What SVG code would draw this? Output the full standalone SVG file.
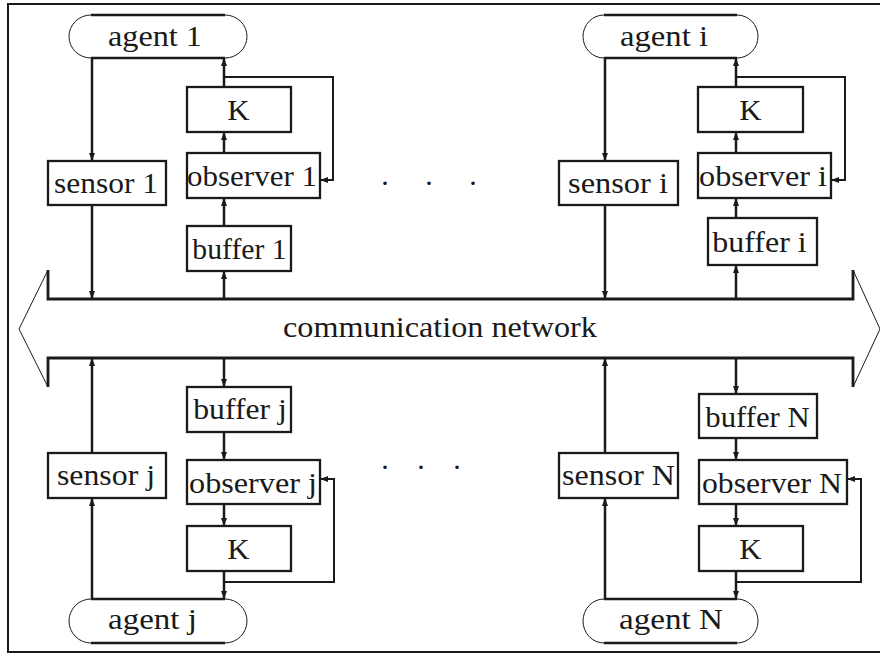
<svg xmlns="http://www.w3.org/2000/svg" width="880" height="654" viewBox="0 0 880 654">
<defs>
<marker id="ah" viewBox="0 0 8 6" markerWidth="8" markerHeight="6" refX="8" refY="3" orient="auto" markerUnits="userSpaceOnUse">
<path d="M0,0 L8,3 L0,6 z" fill="#1a1a1a"/>
</marker>
<style>
text{font-family:"Liberation Serif","Times New Roman",serif;font-size:30px;fill:#1a1a1a;text-anchor:middle}
.box{fill:#fff;stroke:#1a1a1a;stroke-width:2.3}
.ag-flat{fill:none;stroke:#1a1a1a;stroke-width:2.6}
.ag-arc{fill:none;stroke:#1a1a1a;stroke-width:1}
.c{fill:none;stroke:#1a1a1a;stroke-width:2.5;marker-end:url(#ah)}
.fb{fill:none;stroke:#1a1a1a;stroke-width:2;marker-end:url(#ah)}
.bus{fill:none;stroke:#1a1a1a;stroke-width:2.8}
.tip{fill:none;stroke:#1a1a1a;stroke-width:1}
</style>
</defs>
<rect width="880" height="654" fill="#fff"/>
<path d="M880,4 H8 V652 H880" fill="none" stroke="#1a1a1a" stroke-width="2"/>

<g id="network">
<path class="bus" d="M48,270 V299 H853 V270"/>
<path class="bus" d="M48,387 V358 H853 V387"/>
<path class="tip" d="M48,270 L19,329 L48,387"/>
<path class="tip" d="M853,270 L880,329 L853,387"/>
<text transform="translate(440,337) scale(1.074,1)">communication network</text>
</g>

<g id="connectors">
<path class="c" d="M92,58 V161"/>
<path class="c" d="M92,205 V299"/>
<path class="c" d="M224,299 V271"/>
<path class="c" d="M224,226 V198"/>
<path class="c" d="M224,153 V132"/>
<path class="c" d="M224,87 V58"/>
<path class="fb" d="M224,77 H333 V180 H320"/>
<path class="c" d="M605,58 V161"/>
<path class="c" d="M605,205 V299"/>
<path class="c" d="M736,299 V265"/>
<path class="c" d="M736,218 V198"/>
<path class="c" d="M736,153 V132"/>
<path class="c" d="M736,87 V58"/>
<path class="fb" d="M736,77 H845 V180 H831"/>
<path class="c" d="M92,599 V498"/>
<path class="c" d="M92,453 V358"/>
<path class="c" d="M224,358 V387"/>
<path class="c" d="M224,432 V460"/>
<path class="c" d="M224,504 V526"/>
<path class="c" d="M224,571 V599"/>
<path class="fb" d="M224,582 H334 V479 H320"/>
<path class="c" d="M605,599 V498"/>
<path class="c" d="M605,453 V358"/>
<path class="c" d="M736,358 V394"/>
<path class="c" d="M736,438 V460"/>
<path class="c" d="M736,504 V526"/>
<path class="c" d="M736,571 V599"/>
<path class="fb" d="M736,582 H861 V479 H847"/>
</g>

<g id="agent1">
<path class="ag-flat" d="M91,15 H225 M91,58 H225"/>
<path class="ag-arc" d="M91,15 A22,21.5 0 0 0 91,58 M225,15 A22,21.5 0 0 1 225,58"/>
<text transform="translate(155,46) scale(1.075,1)">agent 1</text>
</g>
<g id="sensor1"><rect class="box" x="48" y="161" width="118" height="44"/><text transform="translate(106,193) scale(1.049,1)">sensor 1</text></g>
<g id="K1"><rect class="box" x="187" y="87" width="104" height="45"/><text transform="translate(238.5,120) scale(1.035,1)">K</text></g>
<g id="observer1"><rect class="box" x="187" y="153" width="133" height="45"/><text transform="translate(252,186) scale(1.033,1)">observer 1</text></g>
<g id="buffer1"><rect class="box" x="187" y="226" width="104" height="45"/><text transform="translate(239.5,259) scale(0.99,1)">buffer 1</text></g>

<g id="agenti">
<path class="ag-flat" d="M604,15 H737 M604,58 H737"/>
<path class="ag-arc" d="M604,15 A21,21.5 0 0 0 604,58 M737,15 A21,21.5 0 0 1 737,58"/>
<text transform="translate(664,46) scale(1.089,1)">agent i</text>
</g>
<g id="sensori"><rect class="box" x="559" y="161" width="119" height="44"/><text transform="translate(618,193) scale(1.08,1)">sensor i</text></g>
<g id="Ki"><rect class="box" x="698" y="87" width="105" height="45"/><text transform="translate(750.5,120) scale(1.035,1)">K</text></g>
<g id="observeri"><rect class="box" x="698" y="153" width="133" height="45"/><text transform="translate(763,186) scale(1.075,1)">observer i</text></g>
<g id="bufferi"><rect class="box" x="708" y="218" width="109" height="47"/><text transform="translate(759.5,251.5) scale(1.066,1)">buffer i</text></g>

<g id="agentj">
<path class="ag-flat" d="M91,599 H225 M91,643 H225"/>
<path class="ag-arc" d="M91,599 A22,22 0 0 0 91,643 M225,599 A22,22 0 0 1 225,643"/>
<text transform="translate(152.5,629) scale(1.10,1)">agent j</text>
</g>
<g id="bufferj"><rect class="box" x="187" y="387" width="104" height="45"/><text transform="translate(240,419) scale(1.055,1)">buffer j</text></g>
<g id="sensorj"><rect class="box" x="48" y="453" width="118" height="45"/><text transform="translate(106,485) scale(1.06,1)">sensor j</text></g>
<g id="observerj"><rect class="box" x="187" y="460" width="133" height="44"/><text transform="translate(253,492.5) scale(1.075,1)">observer j</text></g>
<g id="Kj"><rect class="box" x="187" y="526" width="104" height="45"/><text transform="translate(238.5,558.5) scale(1.035,1)">K</text></g>

<g id="agentN">
<path class="ag-flat" d="M604,599 H737 M604,643 H737"/>
<path class="ag-arc" d="M604,599 A21,22 0 0 0 604,643 M737,599 A21,22 0 0 1 737,643"/>
<text transform="translate(671,629) scale(1.105,1)">agent N</text>
</g>
<g id="bufferN"><rect class="box" x="699" y="394" width="118" height="44"/><text transform="translate(757.5,426.5) scale(1.025,1)">buffer N</text></g>
<g id="sensorN"><rect class="box" x="559" y="453" width="119" height="45"/><text transform="translate(618.5,485) scale(1.068,1)">sensor N</text></g>
<g id="observerN"><rect class="box" x="699" y="460" width="148" height="44"/><text transform="translate(772,492.5) scale(1.057,1)">observer N</text></g>
<g id="KN"><rect class="box" x="699" y="526" width="104" height="45"/><text transform="translate(750.5,558.5) scale(1.035,1)">K</text></g>

<g id="dots-top"><text y="193"><tspan x="385">·</tspan><tspan x="429">·</tspan><tspan x="473">·</tspan></text></g>
<g id="dots-bottom"><text y="477"><tspan x="385">·</tspan><tspan x="421">·</tspan><tspan x="457">·</tspan></text></g>
</svg>
